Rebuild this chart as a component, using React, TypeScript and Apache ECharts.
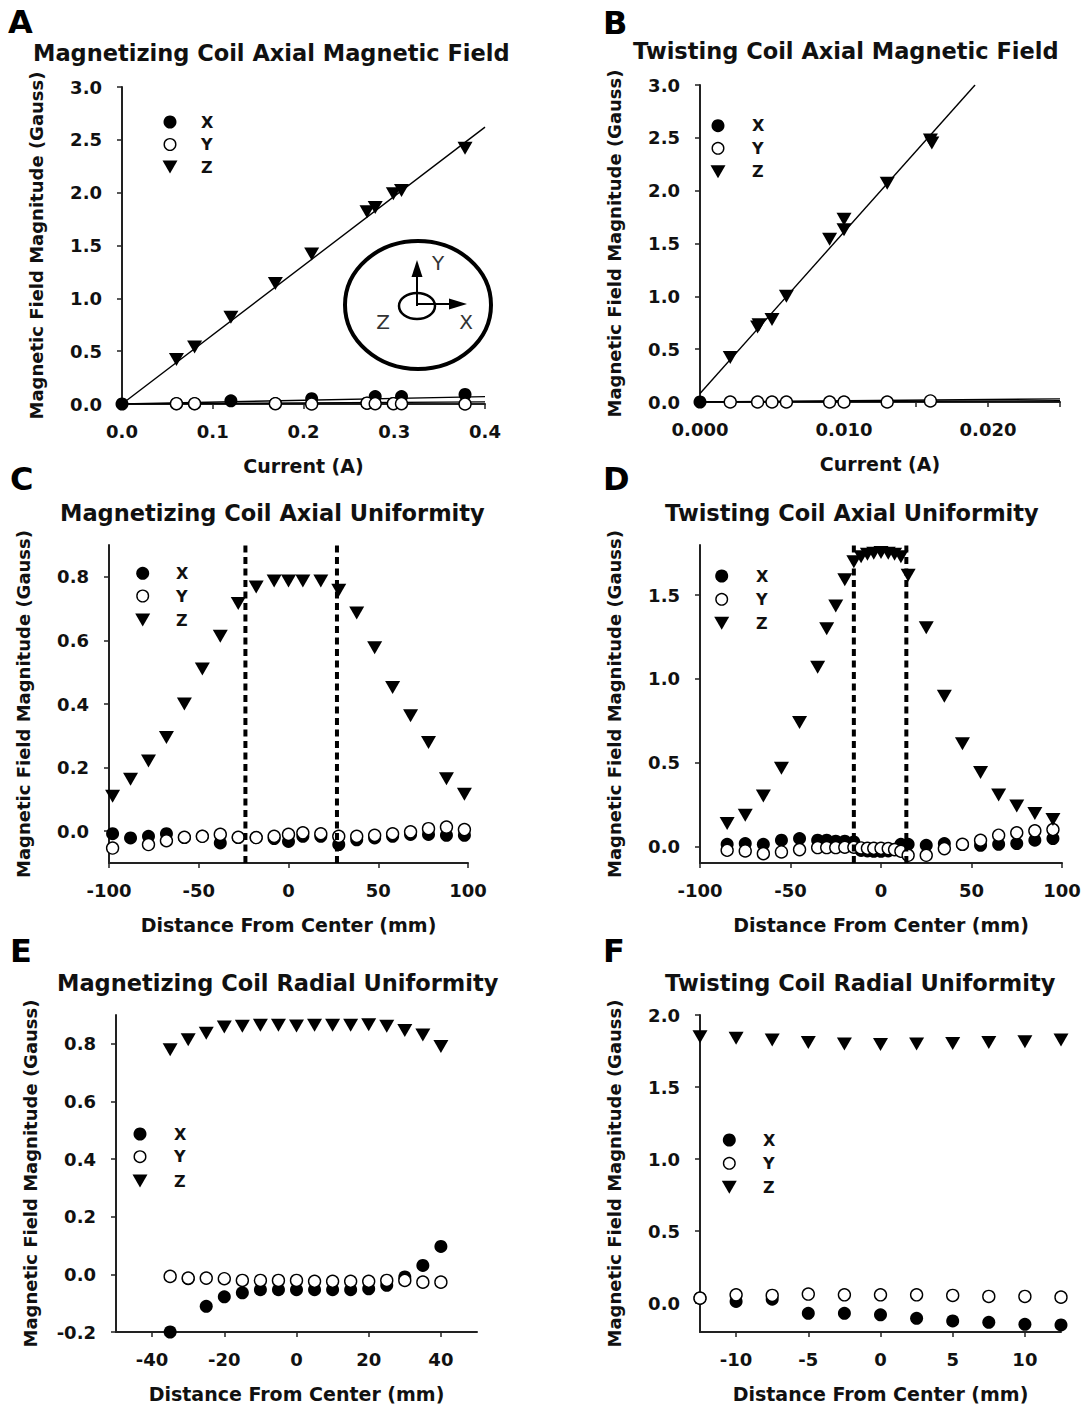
import React, { useEffect, useRef } from 'react';
import * as echarts from 'echarts';

// ---------- Panel A: Magnetizing coil axial field vs current ----------
const aXCurrent = [0, 0.06, 0.08, 0.12, 0.169, 0.209, 0.27, 0.279, 0.299, 0.308, 0.378];
const aXField = [0, 0.003, 0.003, 0.03, 0.004, 0.05, 0.008, 0.07, 0.005, 0.07, 0.09];
const aYCurrent = [0.06, 0.08, 0.169, 0.209, 0.27, 0.279, 0.299, 0.308, 0.378];
const aYField = [0.003, 0.003, 0.003, 0.0, 0.008, 0.003, 0.003, 0.003, 0.0];
const aZCurrent = [0.06, 0.08, 0.12, 0.169, 0.209, 0.27, 0.279, 0.299, 0.308, 0.378];
const aZField = [0.42, 0.54, 0.82, 1.14, 1.42, 1.82, 1.86, 1.99, 2.02, 2.42];
const aFitCurrent = [0, 0.4];
const aFitZ = [0, 2.62];
const aFitX = [0, 0.07];
const aFitY = [0, 0.02];
const aXTicks = [0, 0.1, 0.2, 0.3, 0.4];
const aYTicks = [0, 0.5, 1.0, 1.5, 2.0, 2.5, 3.0];

// ---------- Panel B: Twisting coil axial field vs current ----------
const bXCurrent = [0];
const bXField = [0];
const bYCurrent = [0.0021, 0.004, 0.005, 0.006, 0.009, 0.01, 0.013, 0.016];
const bYField = [0, 0, 0, 0, 0, 0, 0, 0.01];
const bZCurrent = [0.0021, 0.004, 0.0041, 0.005, 0.006, 0.009, 0.01, 0.01, 0.013, 0.016, 0.0161];
const bZField = [0.42, 0.71, 0.73, 0.78, 1.0, 1.54, 1.73, 1.63, 2.07, 2.48, 2.45];
const bFitCurrent = [0, 0.0191];
const bFitZ = [0.08, 3.0];
const bFitCurrentLow = [0, 0.025];
const bFitX = [0, 0.03];
const bFitY = [0, 0.012];
const bXTicks = [0, 0.005, 0.01, 0.015, 0.02, 0.025];
const bXLabels = [0, 0.01, 0.02];
const bYTicks = [0, 0.5, 1.0, 1.5, 2.0, 2.5, 3.0];

// ---------- Panel C: Magnetizing coil axial uniformity ----------
const cDist = [-98, -88, -78, -68, -58, -48, -38, -28, -18, -8, 0, 8, 18, 28, 38, 48, 58, 68, 78, 88, 98];
const cX = [-0.008, -0.021, -0.016, -0.008, -0.02, -0.016, -0.037, -0.02, -0.02, -0.023, -0.032, -0.016, -0.016, -0.042, -0.027, -0.021, -0.016, -0.01, -0.01, -0.013, -0.013];
const cYDist = [-98, -78, -68, -58, -48, -38, -28, -18, -8, 0, 8, 18, 28, 38, 48, 58, 68, 78, 88, 98];
const cY = [-0.053, -0.042, -0.03, -0.019, -0.016, -0.01, -0.019, -0.02, -0.016, -0.01, -0.005, -0.008, -0.016, -0.016, -0.013, -0.008, -0.002, 0.008, 0.013, 0.005];
const cZ = [0.11, 0.163, 0.221, 0.295, 0.4, 0.51, 0.613, 0.716, 0.768, 0.787, 0.787, 0.787, 0.787, 0.758, 0.686, 0.577, 0.452, 0.363, 0.279, 0.165, 0.116];
const cDash = [-24, 27];
const cXTicks = [-100, -50, 0, 50, 100];
const cYTicks = [0, 0.2, 0.4, 0.6, 0.8];

// ---------- Panel D: Twisting coil axial uniformity ----------
const dDist = [-85, -75, -65, -55, -45, -35, -30, -25, -20, -15, -11, -7.5, -4, 0, 4, 7.5, 11, 15, 25, 35, 45, 55, 65, 75, 85, 95];
const dX = [0.012, 0.016, 0.012, 0.036, 0.046, 0.036, 0.036, 0.03, 0.03, 0.026, -0.025, -0.028, -0.03, -0.03, -0.028, -0.02, 0.012, 0.012, 0.006, 0.016, 0.01, 0.006, 0.012, 0.016, 0.036, 0.046];
const dY = [-0.024, -0.028, -0.044, -0.034, -0.02, -0.008, -0.008, -0.008, -0.006, -0.006, -0.01, -0.012, -0.012, -0.012, -0.014, -0.02, -0.03, -0.054, -0.054, -0.014, 0.012, 0.036, 0.066, 0.08, 0.092, 0.1];
const dZ = [0.136, 0.186, 0.3, 0.466, 0.74, 1.07, 1.3, 1.436, 1.592, 1.7, 1.73, 1.745, 1.75, 1.755, 1.75, 1.745, 1.73, 1.62, 1.306, 0.896, 0.612, 0.44, 0.306, 0.24, 0.196, 0.16];
const dDash = [-15, 14];
const dXTicks = [-100, -50, 0, 50, 100];
const dYTicks = [0, 0.5, 1.0, 1.5];

// ---------- Panel E: Magnetizing coil radial uniformity ----------
const eDist = [-35, -30, -25, -20, -15, -10, -5, 0, 5, 10, 15, 20, 25, 30, 35, 40];
const eX = [-0.2, -0.015, -0.111, -0.078, -0.064, -0.053, -0.053, -0.053, -0.053, -0.053, -0.053, -0.05, -0.038, -0.009, 0.031, 0.097];
const eY = [-0.007, -0.013, -0.013, -0.015, -0.021, -0.021, -0.021, -0.021, -0.024, -0.024, -0.024, -0.024, -0.021, -0.021, -0.027, -0.027];
const eZ = [0.779, 0.814, 0.837, 0.858, 0.861, 0.864, 0.864, 0.862, 0.864, 0.864, 0.864, 0.866, 0.861, 0.846, 0.831, 0.791];
const eXTicks = [-40, -20, 0, 20, 40];
const eYTicks = [-0.2, 0, 0.2, 0.4, 0.6, 0.8];

// ---------- Panel F: Twisting coil radial uniformity ----------
const fDist = [-12.5, -10, -7.5, -5, -2.5, 0, 2.5, 5, 7.5, 10, 12.5];
const fX = [0.035, 0.012, 0.028, -0.07, -0.07, -0.081, -0.105, -0.123, -0.133, -0.147, -0.151];
const fY = [0.035, 0.058, 0.054, 0.063, 0.058, 0.058, 0.058, 0.054, 0.047, 0.047, 0.042];
const fZ = [1.849, 1.838, 1.826, 1.81, 1.798, 1.796, 1.798, 1.803, 1.81, 1.814, 1.826];
const fXTicks = [-10, -5, 0, 5, 10];
const fYTicks = [0, 0.5, 1.0, 1.5, 2.0];

const letters = ['A', 'B', 'C', 'D', 'E', 'F'];
const titles = [
  'Magnetizing Coil Axial Magnetic Field',
  'Twisting Coil Axial Magnetic Field',
  'Magnetizing Coil Axial Uniformity',
  'Twisting Coil Axial Uniformity',
  'Magnetizing Coil Radial Uniformity',
  'Twisting Coil Radial Uniformity',
];
const legendNames = ['X', 'Y', 'Z'];
const yAxisName = 'Magnetic Field Magnitude (Gauss)';
const xAxisNames = ['Current (A)', 'Current (A)', 'Distance From Center (mm)', 'Distance From Center (mm)', 'Distance From Center (mm)', 'Distance From Center (mm)'];

const FONT = 'DejaVu Sans';
const INK = '#111';

const zip = (xs: number[], ys: number[]) => xs.map((x, i) => [x, ys[i]]);

type Panel = {
  grid: { left: number; top: number; width: number; height: number };
  xMin: number; xMax: number; yMin: number; yMax: number;
  xTicks: number[]; xLabels: number[]; xDec: number;
  yTicks: number[]; yDec: number;
  letter: [number, number];
  title: [number, number];
  legend: { mx: number; ys: number[]; tx: number };
};

const panels: Panel[] = [
  { grid: { left: 122, top: 87, width: 363, height: 317 }, xMin: 0, xMax: 0.4, yMin: 0, yMax: 3,
    xTicks: aXTicks, xLabels: aXTicks, xDec: 1, yTicks: aYTicks, yDec: 1,
    letter: [8, 22], title: [33, 53], legend: { mx: 170, ys: [122, 144.5, 167], tx: 201 } },
  { grid: { left: 700, top: 85, width: 360, height: 317 }, xMin: 0, xMax: 0.025, yMin: 0, yMax: 3,
    xTicks: bXTicks, xLabels: bXLabels, xDec: 3, yTicks: bYTicks, yDec: 1,
    letter: [603, 23], title: [633, 51], legend: { mx: 718, ys: [125.7, 148.3, 171.7], tx: 752 } },
  { grid: { left: 109, top: 545, width: 359, height: 318 }, xMin: -100, xMax: 100, yMin: -0.1, yMax: 0.9,
    xTicks: cXTicks, xLabels: cXTicks, xDec: 0, yTicks: cYTicks, yDec: 1,
    letter: [10, 479], title: [60, 513], legend: { mx: 142.7, ys: [573.3, 596, 620], tx: 176 } },
  { grid: { left: 700, top: 545, width: 362, height: 318 }, xMin: -100, xMax: 100, yMin: -0.1, yMax: 1.8,
    xTicks: dXTicks, xLabels: dXTicks, xDec: 0, yTicks: dYTicks, yDec: 1,
    letter: [603, 479], title: [665, 513], legend: { mx: 721.7, ys: [576, 599.3, 623.3], tx: 756 } },
  { grid: { left: 116, top: 1015, width: 361, height: 317 }, xMin: -50, xMax: 50, yMin: -0.2, yMax: 0.9,
    xTicks: eXTicks, xLabels: eXTicks, xDec: 0, yTicks: eYTicks, yDec: 1,
    letter: [10, 951], title: [57, 983], legend: { mx: 140, ys: [1134, 1156.7, 1181], tx: 174 } },
  { grid: { left: 700, top: 1015, width: 361, height: 317 }, xMin: -12.5, xMax: 12.5, yMin: -0.2, yMax: 2.0,
    xTicks: fXTicks, xLabels: fXTicks, xDec: 0, yTicks: fYTicks, yDec: 1,
    letter: [603, 951], title: [665, 983], legend: { mx: 729.3, ys: [1140, 1163.3, 1187.3], tx: 763 } },
];

const labelStyle = { fontFamily: FONT, fontWeight: 'bold' as const, fontSize: 18, color: INK };

function scatterX(data: number[][], gi: number) {
  return { type: 'scatter', name: 'X', xAxisIndex: gi, yAxisIndex: gi, data, symbol: 'circle', symbolSize: 13,
    itemStyle: { color: '#000', opacity: 1 }, clip: false, z: 3 };
}
function scatterY(data: number[][], gi: number) {
  return { type: 'scatter', name: 'Y', xAxisIndex: gi, yAxisIndex: gi, data, symbol: 'circle', symbolSize: 12,
    itemStyle: { color: '#fff', borderColor: '#000', borderWidth: 1.4, opacity: 1 }, clip: false, z: 4 };
}
function scatterZ(data: number[][], gi: number) {
  return { type: 'scatter', name: 'Z', xAxisIndex: gi, yAxisIndex: gi, data, symbol: 'triangle', symbolRotate: 180,
    symbolSize: [15, 13], itemStyle: { color: '#000', opacity: 1 }, clip: false, z: 5 };
}
function fitLine(name: string, data: number[][], gi: number) {
  return { type: 'line', name, xAxisIndex: gi, yAxisIndex: gi, data, symbol: 'none', silent: true,
    lineStyle: { color: '#000', width: 1.4 }, z: 2 };
}
function dashLine(name: string, x: number, y0: number, y1: number, gi: number) {
  return { type: 'line', name, xAxisIndex: gi, yAxisIndex: gi, data: [[x, y0], [x, y1]], symbol: 'none', silent: true,
    lineStyle: { color: '#000', width: 4, type: [7, 4.5] }, z: 6 };
}

function buildOption() {
  const grid = panels.map((p) => ({ ...p.grid, containLabel: false }));
  const xAxis = panels.map((p, i) => ({
    type: 'value', gridIndex: i, min: p.xMin, max: p.xMax,
    name: xAxisNames[i], nameLocation: 'middle', nameGap: 52,
    nameTextStyle: { ...labelStyle, fontSize: 19 },
    axisLine: { show: true, onZero: false, lineStyle: { color: '#222', width: 2 } },
    axisTick: { show: true, inside: false, length: 5, customValues: p.xTicks, lineStyle: { color: '#222', width: 1.5 } },
    axisLabel: { show: true, customValues: p.xLabels, margin: 18, ...labelStyle,
      formatter: (v: number) => (p.xDec === 0 ? String(Math.round(v)) : v.toFixed(p.xDec)) },
    splitLine: { show: false },
  }));
  const yAxis = panels.map((p, i) => ({
    type: 'value', gridIndex: i, min: p.yMin, max: p.yMax,
    name: yAxisName, nameLocation: 'middle', nameGap: 77, nameRotate: 90,
    nameTextStyle: { ...labelStyle, fontSize: 18 },
    axisLine: { show: true, onZero: false, lineStyle: { color: '#222', width: 2 } },
    axisTick: { show: true, inside: false, length: 5, customValues: p.yTicks, lineStyle: { color: '#222', width: 1.5 } },
    axisLabel: { show: true, customValues: p.yTicks, margin: 20, ...labelStyle,
      formatter: (v: number) => v.toFixed(p.yDec) },
    splitLine: { show: false },
  }));

  const series: any[] = [
    // A
    fitLine('fitAZ', zip(aFitCurrent, aFitZ), 0),
    fitLine('fitAX', zip(aFitCurrent, aFitX), 0),
    fitLine('fitAY', zip(aFitCurrent, aFitY), 0),
    scatterX(zip(aXCurrent, aXField), 0),
    scatterY(zip(aYCurrent, aYField), 0),
    scatterZ(zip(aZCurrent, aZField), 0),
    // B
    fitLine('fitBZ', zip(bFitCurrent, bFitZ), 1),
    fitLine('fitBX', zip(bFitCurrentLow, bFitX), 1),
    fitLine('fitBY', zip(bFitCurrentLow, bFitY), 1),
    scatterX(zip(bXCurrent, bXField), 1),
    scatterY(zip(bYCurrent, bYField), 1),
    scatterZ(zip(bZCurrent, bZField), 1),
    // C
    scatterX(zip(cDist, cX), 2),
    scatterY(zip(cYDist, cY), 2),
    scatterZ(zip(cDist, cZ), 2),
    dashLine('dashC1', cDash[0], -0.1, 0.9, 2),
    dashLine('dashC2', cDash[1], -0.1, 0.9, 2),
    // D
    scatterX(zip(dDist, dX), 3),
    scatterY(zip(dDist, dY), 3),
    scatterZ(zip(dDist, dZ), 3),
    dashLine('dashD1', dDash[0], -0.1, 1.8, 3),
    dashLine('dashD2', dDash[1], -0.1, 1.8, 3),
    // E
    scatterX(zip(eDist, eX), 4),
    scatterY(zip(eDist, eY), 4),
    scatterZ(zip(eDist, eZ), 4),
    // F
    scatterX(zip(fDist, fX), 5),
    scatterY(zip(fDist, fY), 5),
    scatterZ(zip(fDist, fZ), 5),
  ];

  const graphic: any[] = [];
  panels.forEach((p, i) => {
    graphic.push({ type: 'text', x: p.letter[0], y: p.letter[1],
      style: { text: letters[i], font: `bold 32px "${FONT}"`, fill: '#000', verticalAlign: 'middle', align: 'left' } });
    graphic.push({ type: 'text', x: p.title[0], y: p.title[1],
      style: { text: titles[i], font: `bold 22.5px "${FONT}"`, fill: INK, verticalAlign: 'middle', align: 'left' } });
    const { mx, ys, tx } = p.legend;
    graphic.push({ type: 'circle', shape: { cx: mx, cy: ys[0], r: 6.5 }, style: { fill: '#000' } });
    graphic.push({ type: 'circle', shape: { cx: mx, cy: ys[1], r: 5.8 }, style: { fill: '#fff', stroke: '#000', lineWidth: 1.4 } });
    graphic.push({ type: 'polygon', shape: { points: [[mx - 7.5, ys[2] - 6.5], [mx + 7.5, ys[2] - 6.5], [mx, ys[2] + 6.5]] }, style: { fill: '#000' } });
    legendNames.forEach((n, k) => {
      graphic.push({ type: 'text', x: tx, y: ys[k],
        style: { text: n, font: `bold 16px "${FONT}"`, fill: INK, verticalAlign: 'middle', align: 'left' } });
    });
  });

  // Coil inset diagram in panel A
  graphic.push({ type: 'ellipse', shape: { cx: 418, cy: 305, rx: 73, ry: 64 }, style: { fill: 'none', stroke: '#000', lineWidth: 4 } });
  graphic.push({ type: 'ellipse', shape: { cx: 417, cy: 306, rx: 18, ry: 13 }, style: { fill: 'none', stroke: '#000', lineWidth: 2.5 } });
  graphic.push({ type: 'line', shape: { x1: 417, y1: 306, x2: 417, y2: 274 }, style: { stroke: '#000', lineWidth: 2 } });
  graphic.push({ type: 'polygon', shape: { points: [[411.5, 277], [422.5, 277], [417, 260]] }, style: { fill: '#000' } });
  graphic.push({ type: 'line', shape: { x1: 417, y1: 304, x2: 452, y2: 304 }, style: { stroke: '#000', lineWidth: 2 } });
  graphic.push({ type: 'polygon', shape: { points: [[449, 298.5], [449, 309.5], [467, 304]] }, style: { fill: '#000' } });
  [['Y', 438, 263], ['Z', 383, 322], ['X', 466, 322]].forEach(([t, x, y]) => {
    graphic.push({ type: 'text', x, y, style: { text: t, font: `20px "${FONT}"`, fill: '#333', align: 'center', verticalAlign: 'middle' } });
  });

  return { animation: false, backgroundColor: '#fff', grid, xAxis, yAxis, series, graphic };
}

export default function App() {
  const ref = useRef<HTMLDivElement>(null);
  useEffect(() => {
    if (!ref.current) return;
    const chart = echarts.init(ref.current, undefined, { renderer: 'svg' });
    chart.setOption(buildOption() as any);
    return () => chart.dispose();
  }, []);
  return <div ref={ref} style={{ position: 'absolute', left: 0, top: 0, width: 1086, height: 1407, background: '#fff' }} />;
}
